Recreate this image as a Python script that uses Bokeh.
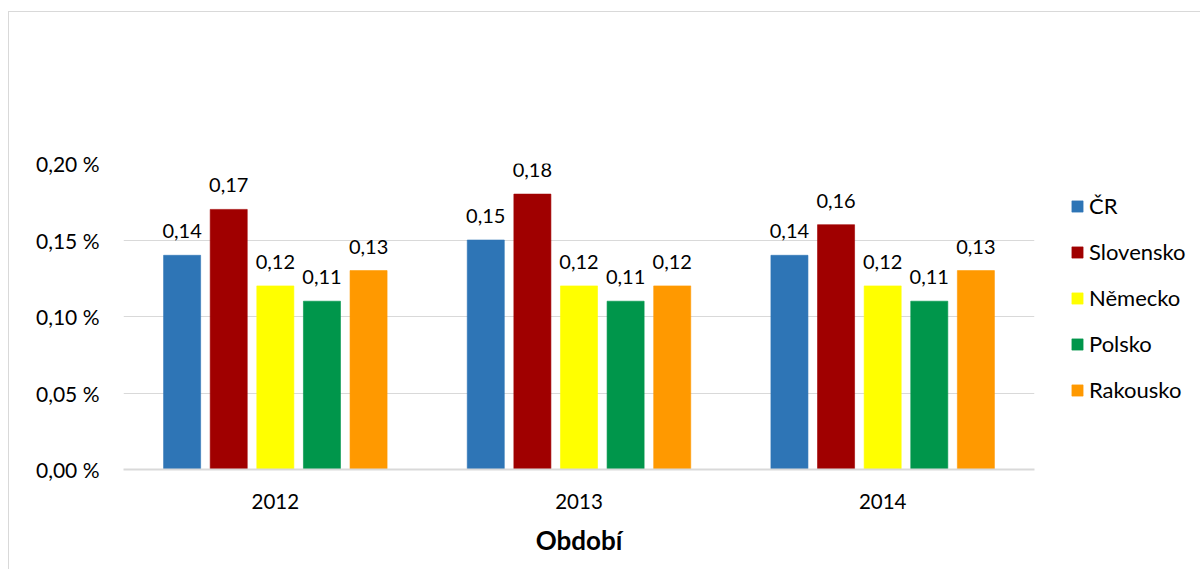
from bokeh.plotting import figure
from bokeh.models import (ColumnDataSource, FactorRange, Range1d, Legend, LegendItem,
                          CustomJSTickFormatter, FixedTicker)
from bokeh.transform import dodge
from bokeh.core.properties import value
from bokeh.embed import file_html
from bokeh.resources import INLINE

years = ["2012", "2013", "2014"]
series = ["ČR", "Slovensko", "Německo", "Polsko", "Rakousko"]
cr = [0.14, 0.15, 0.14]
sk = [0.17, 0.18, 0.16]
de = [0.12, 0.12, 0.12]
pl = [0.11, 0.11, 0.11]
at = [0.13, 0.12, 0.13]
y_ticks = [0.0, 0.05, 0.10, 0.15, 0.20]
colors = ["#2E75B6", "#A00000", "#FFFF00", "#00964B", "#FF9900"]
x_title = "Období"

FONT = "Lato"

p = figure(x_range=FactorRange(*years), y_range=Range1d(0, 0.20),
           frame_width=911, frame_height=306,
           min_border_left=114, min_border_right=158,
           min_border_top=151, min_border_bottom=100,
           output_backend="svg", toolbar_location=None,
           styles={"border-top": "1px solid #d9d9d9", "border-left": "1px solid #d9d9d9",
                   "margin-left": "8px", "margin-top": "11px"})
p.outline_line_color = None
p.xgrid.grid_line_color = None
p.ygrid.ticker = FixedTicker(ticks=y_ticks)
p.ygrid.grid_line_color = "#D9D9D9"
p.ygrid.grid_line_width = 1

offsets = [-0.307, -0.1535, 0.0, 0.1535, 0.307]
items = []
for name, vals, col, off in zip(series, [cr, sk, de, pl, at], colors, offsets):
    src = ColumnDataSource(dict(year=years, val=vals,
                                lab=[f"{v:.2f}".replace(".", ",") for v in vals]))
    r = p.vbar(x=dodge("year", off, range=p.x_range), top="val", width=0.122,
               source=src, fill_color=col, line_color=col, line_alpha=0.6)
    p.text(x=dodge("year", off, range=p.x_range), y="val", text="lab", source=src,
           y_offset=-17, text_align="center", text_baseline="bottom",
           text_font=value(FONT), text_font_size="20px", text_color="#000000")
    items.append(LegendItem(label=name, renderers=[r]))

legend = Legend(items=items, location=(36, 66), glyph_width=14, glyph_height=14,
                label_height=20, spacing=19, padding=0, margin=0,
                border_line_color=None, background_fill_alpha=0,
                label_text_font=FONT, label_text_font_size="22px", label_standoff=5,
                label_text_color="#000000")
p.add_layout(legend, "right")

ya = p.yaxis[0]
ya.ticker = FixedTicker(ticks=y_ticks)
ya.formatter = CustomJSTickFormatter(code="return tick.toFixed(2).replace('.', ',') + ' %';")
ya.axis_line_color = None
ya.major_tick_line_color = None
ya.minor_tick_line_color = None
ya.major_label_standoff = 18
ya.major_label_text_font = FONT
ya.major_label_text_font_size = "21px"
ya.major_label_text_color = "#000000"

xa = p.xaxis[0]
xa.axis_line_color = "#D9D9D9"
xa.axis_line_width = 2
xa.major_tick_line_color = None
xa.minor_tick_line_color = None
xa.major_label_standoff = 18
xa.major_label_text_font = FONT
xa.major_label_text_font_size = "20.5px"
xa.major_label_text_color = "#000000"
xa.axis_label = x_title
xa.axis_label_text_font = FONT
xa.axis_label_text_font_size = "26px"
xa.axis_label_text_font_style = "bold"
xa.axis_label_text_color = "#000000"
xa.axis_label_standoff = 12

open("out.html", "w").write(file_html(p, INLINE))
